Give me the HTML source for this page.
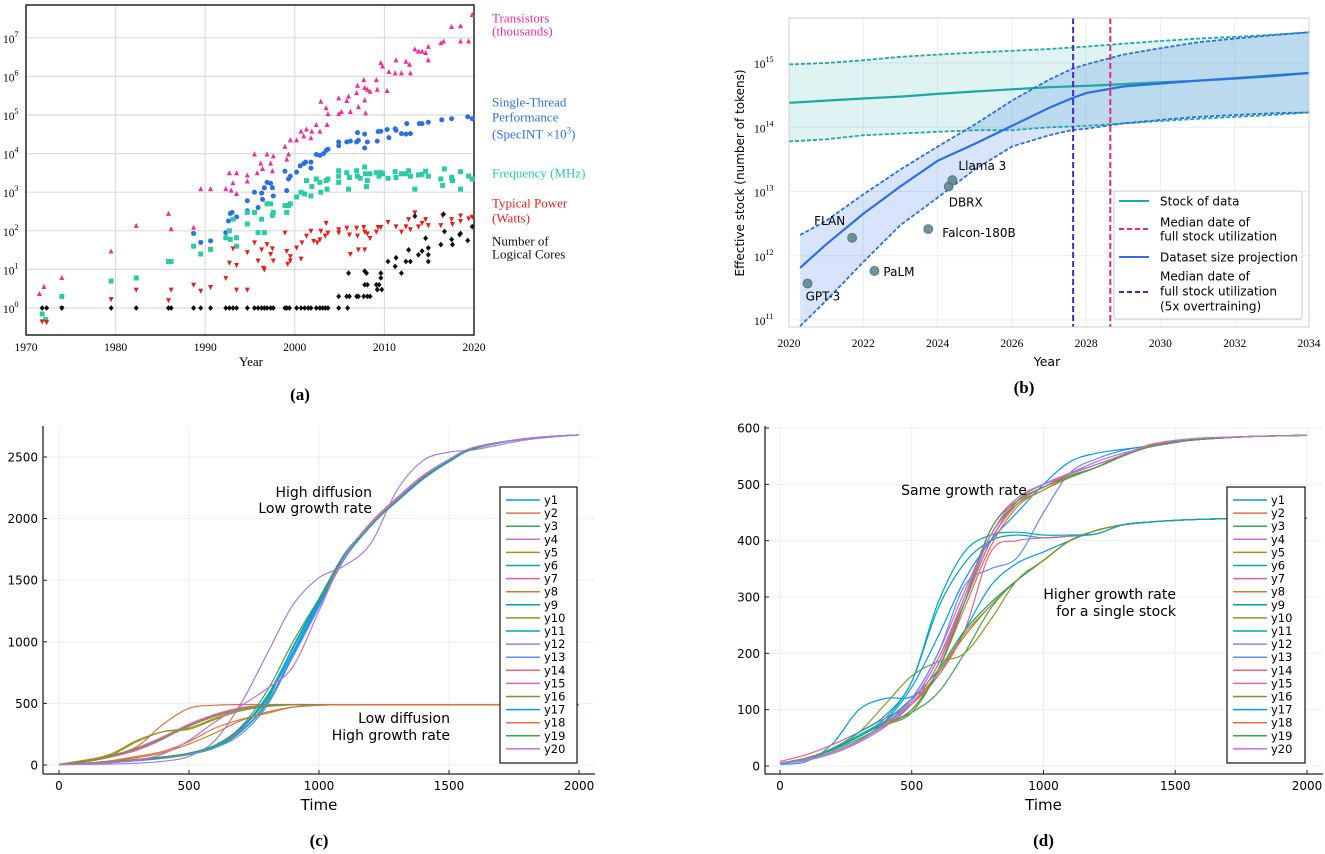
<!DOCTYPE html>
<html><head><meta charset="utf-8"><style>
html,body{margin:0;padding:0;background:#fff;overflow:hidden;}
svg{display:block;}
.serif{font-family:"Liberation Serif",serif;}
.sans{font-family:"DejaVu Sans","Liberation Sans",sans-serif;}
</style></head><body>
<svg id="fig" width="1325" height="854" viewBox="0 0 1325 854" xmlns="http://www.w3.org/2000/svg">
<g id="pa"></g>
<g id="pb"></g>
<g id="pc"></g>
<g id="pd"></g>
</svg>
<script>
// ---------- Panel (a) data ----------
const transYears=[1971.5,1972,1974,1979.5,1982.3,1985.9,1986.2,1988.7,1989.5,1990.6,1992.3,1992.7,1992.9,1993.1,1993.5,1993.5,1994.7,1994.7,1995.5,1995.8,1996.2,1996.4,1996.9,1997.3,1997.5,1997.6,1998.9,1999.1,1999.3,1999.5,2000.2,2000.7,2001,2001.3,2001.8,2001.9,2002.4,2002.8,2002.9,2003.5,2003.6,2003.7,2004.9,2004.9,2005.2,2005.8,2006,2006.2,2006.9,2007,2007.1,2007.7,2007.8,2007.8,2007.9,2008.1,2008.4,2009.1,2009.2,2009.6,2009.8,2010.3,2010.5,2011.2,2011.3,2011.9,2012.4,2012.8,2012.9,2013.4,2013.8,2014.2,2014.6,2014.9,2014.9,2016.3,2016.6,2017.5,2018.5,2018.5,2019.4,2019.8];
const transVals=[2.3,3.5,6,29,134,275,110,120,1200,1200,1200,3100,1100,1700,3100,900,2700,1900,9500,3100,5500,4000,9500,5500,3500,8500,15000,7000,9500,22000,22000,37000,28000,42000,25000,37000,55000,37000,220000,150000,55000,105000,270000,105000,120000,230000,300000,120000,370000,570000,160000,800000,500000,240000,110000,450000,400000,800000,450000,2200000,1800000,420000,1300000,1200000,2600000,1200000,2400000,2000000,1200000,5000000,4400000,4400000,4000000,5800000,2600000,7200000,8000000,19000000,20000000,8000000,8000000,39000000];
const perfYears=[1988.7,1989.5,1990.6,1992.3,1992.6,1992.8,1993,1993.5,1994.7,1994.7,1995.5,1995.9,1996.3,1996.4,1996.6,1996.9,1997.3,1997.5,1997.6,1998.9,1999.1,1999.3,1999.5,2000.2,2000.6,2001,2001.2,2001.8,2001.8,2002.4,2002.8,2003.2,2003.5,2003.7,2004.9,2004.9,2005.8,2006.2,2006.9,2007,2007.1,2007.8,2007.8,2008.1,2009.2,2009.3,2009.6,2010.3,2010.5,2011.2,2011.3,2011.9,2012.4,2012.5,2012.9,2013.9,2014.2,2014.9,2016.4,2017.5,2019.3,2019.8];
const perfVals=[85,50,55,90,180,280,300,230,600,330,1000,400,950,650,1300,1800,1700,1300,800,3500,1100,2200,2600,3300,4800,5500,6000,4200,6000,9500,9000,10000,12000,13000,20000,16000,20000,21000,20000,35000,22000,32000,14000,20000,21000,37000,38000,42000,26000,44000,40000,33000,32000,60000,33000,60000,60000,65000,75000,80000,90000,80000];
const freqYears=[1971.8,1972.2,1974,1979.5,1982.3,1985.9,1986.2,1988.7,1989.5,1990.6,1992.3,1992.7,1992.8,1993.1,1993.5,1993.5,1994.7,1994.7,1995.5,1995.9,1996.3,1996.6,1996.9,1997.3,1997.5,1997.6,1998.9,1999.1,1999.3,1999.5,2000.2,2000.7,2001.1,2001.3,2001.8,2001.9,2002.4,2002.8,2002.9,2003.5,2003.6,2003.7,2004.9,2004.9,2004.9,2005.8,2006,2006.1,2006.9,2007,2007.3,2007.8,2007.9,2008,2008.1,2008.4,2009.1,2009.4,2009.6,2009.8,2010.4,2011.2,2011.3,2011.9,2012.4,2012.7,2012.9,2013.4,2013.8,2014.2,2014.6,2014.9,2016.3,2016.5,2016.7,2017.5,2017.6,2018.5,2018.5,2019.4,2019.8];
const freqVals=[0.7,0.5,2,5,6,16,16,40,25,33,66,100,60,200,66,40,300,150,300,90,200,90,500,500,250,300,450,300,450,500,750,1000,900,2000,800,1400,2200,1800,1000,2000,1200,2200,3600,2600,1800,3200,1200,2400,3600,2600,2300,4500,3000,1400,2000,3000,3200,2600,3200,3000,2300,3400,2400,3000,3000,3600,2600,1200,2800,2900,3500,2600,2200,1500,4000,2400,2000,3400,1200,2600,2200];
const powYears=[1971.8,1972.3,1974,1979.5,1982.3,1985.9,1986.2,1988.7,1989.5,1990.6,1992.3,1992.7,1993.1,1993.5,1993.5,1994.7,1994.7,1995.5,1995.9,1996.3,1996.5,1996.6,1996.9,1997.3,1997.5,1997.6,1998.9,1999.1,1999.2,1999.5,1999.5,2000.2,2000.7,2000.8,2001.3,2001.8,2002.1,2002.5,2002.9,2003.5,2003.7,2002.8,2003.4,2004.9,2004.9,2005.8,2006.1,2006.2,2006.9,2007,2007.1,2007.7,2007.8,2007.8,2008.1,2008.4,2009.1,2009.3,2009.6,2010.4,2011.3,2011.9,2012.4,2012.7,2012.9,2013.4,2013.8,2014.2,2014.6,2014.9,2016.3,2016.5,2017.5,2017.6,2018.5,2018.5,2019.4,2019.8];
const powVals=[0.45,0.43,1,1.7,3,1.6,3,4,2.8,3.5,6,15,35,13,3,28,3,50,17,33,11,10,45,25,35,17,90,30,14,22,17,37,19,50,75,100,55,50,100,160,90,60,75,110,90,120,80,25,120,75,33,125,95,33,85,65,95,125,125,170,130,95,130,200,110,300,130,160,200,140,140,250,200,150,250,180,210,230];
const coreYears=[1971.8,1972.3,1974,1979.5,1982.3,1985.9,1986.2,1988.7,1989.5,1990.6,1992.3,1992.7,1993.1,1993.5,1994.7,1995.5,1995.9,1996.3,1996.6,1996.9,1997.3,1997.6,1998.9,1999.1,1999.4,2000.2,2000.7,2001.1,2001.5,2001.8,2002.4,2002.8,2003.1,2003.4,2003.7,2004.9,2005.9,2004.9,2005.8,2006.1,2006,2006.9,2007.1,2007.7,2007.8,2007.8,2008,2008.1,2008.1,2008.4,2009.1,2009.2,2009.4,2009.6,2009.6,2009.7,2010.4,2011.2,2011.3,2011.9,2012.4,2012.7,2012.9,2013.4,2013.8,2014.2,2014.6,2014.9,2014.9,2014.9,2016.3,2016.6,2016.7,2017.5,2017.6,2018.4,2018.5,2019.3,2019.8];
const coreVals=[1,1,1,1,1,1,1,1,1,1,1,1,1,1,1,1,1,1,1,1,1,1,1,1,1,1,1,1,1,1,1,1,1,1,1,1,1,2,2,2,8,2,2,2,4,9,8,4,2,2,4,3,4,8,6,3,16,12,20,8,16,32,16,240,24,30,64,36,24,16,44,270,96,60,44,80,85,56,128];
const aYearTicks=[1970,1980,1990,2000,2010,2020];
const aExpTicks=[0,1,2,3,4,5,6,7];

// ---------- Panel (b) data ----------
const bStockYears=[2020,2021,2022,2023,2024,2025,2026,2027,2028,2029,2030,2031,2032,2033,2034];
const bStockMed=[2.4e14,2.6e14,2.8e14,3.0e14,3.3e14,3.6e14,3.9e14,4.2e14,4.4e14,4.7e14,5.0e14,5.3e14,5.7e14,6.2e14,7e14];
const bStockHi=[9.5e14,1.0e15,1.1e15,1.25e15,1.35e15,1.45e15,1.55e15,1.65e15,1.8e15,2.0e15,2.2e15,2.4e15,2.55e15,2.75e15,3e15];
const bStockLo=[6e13,6.5e13,7.5e13,8e13,8.5e13,9e13,9e13,1.0e14,1.05e14,1.15e14,1.25e14,1.35e14,1.45e14,1.55e14,1.7e14];
const bProjYears=[2020.3,2021,2022,2023,2024,2025,2026,2027,2027.6,2028,2029,2030,2031,2032,2033,2034];
const bProjMed=[6.5e11,1.5e12,4.5e12,1.2e13,3e13,5.5e13,1.05e14,2.0e14,2.8e14,3.4e14,4.3e14,4.8e14,5.3e14,5.8e14,6.4e14,7e14];
const bProjHi=[2.1e12,3.5e12,9e12,2.2e13,5e13,1.1e14,2.6e14,5.5e14,8e14,9.5e14,1.35e15,1.7e15,2.1e15,2.4e15,2.7e15,3e15];
const bProjLo=[8e10,2e11,8e11,3e12,8e12,2.2e13,5e13,7.5e13,9e13,9.5e13,1.15e14,1.3e14,1.45e14,1.55e14,1.65e14,1.7e14];
const bModels=["GPT-3","FLAN","PaLM","Falcon-180B","DBRX","Llama 3"];
const bModelYears=[2020.5,2021.7,2022.3,2023.75,2024.3,2024.4];
const bModelVals=[3.7e11,1.9e12,5.8e11,2.6e12,1.2e13,1.5e13];
const bMedianDate=2028.65;
const bMedianDate5x=2027.65;
const bYearTicks=[2020,2022,2024,2026,2028,2030,2032,2034];
const bExpTicks=[11,12,13,14,15];

// ---------- Panel (c) data ----------
const cT=[0,100,200,300,400,500,600,700,800,900,1000,1100,1200,1300,1400,1500,1600,1800,2000];
const cY1=[5,10,20,35,55,90,150,290,540,920,1320,1700,1960,2160,2340,2480,2580,2650,2680];
const cY2=[5,40,80,150,330,460,485,490,490,490,490,490,490,490,490,490,490,490,490];
const cY3=[5,10,20,35,55,85,140,270,520,960,1350,1720,1950,2150,2330,2470,2575,2650,2680];
const cY4=[5,30,75,140,230,330,410,465,485,490,490,490,490,490,490,490,490,490,490];
const cY5=[5,35,90,200,270,300,380,450,480,490,490,490,490,490,490,490,490,490,490];
const cY6=[5,12,25,45,65,95,160,300,560,950,1330,1690,1950,2140,2320,2470,2570,2650,2680];
const cY7=[5,10,20,35,55,90,150,280,500,880,1300,1700,1970,2170,2350,2480,2580,2650,2680];
const cY8=[4,15,30,60,100,170,260,360,430,470,485,490,490,490,490,490,490,490,490];
const cY9=[5,30,70,130,220,320,400,460,485,490,490,490,490,490,490,490,490,490,490];
const cY10=[5,30,80,190,270,290,370,440,475,488,490,490,490,490,490,490,490,490,490];
const cY11=[5,12,25,45,65,95,150,270,500,900,1300,1680,1940,2150,2330,2470,2570,2650,2680];
const cY12=[2,5,8,15,30,70,200,500,900,1300,1520,1620,1800,2230,2470,2540,2560,2640,2680];
const cY13=[5,12,25,45,65,90,140,250,480,880,1280,1680,1960,2160,2340,2480,2580,2650,2680];
const cY14=[5,30,70,130,220,320,400,460,485,490,490,490,490,490,490,490,490,490,490];
const cY15=[5,25,65,120,210,330,410,465,485,490,490,490,490,490,490,490,490,490,490];
const cY16=[5,28,70,135,215,315,395,455,483,490,490,490,490,490,490,490,490,490,490];
const cY17=[4,10,20,40,60,95,160,300,540,950,1350,1710,1950,2150,2330,2470,2570,2650,2680];
const cY18=[3,15,35,70,110,190,300,370,420,470,485,490,490,490,490,490,490,490,490];
const cY19=[5,12,25,45,65,95,160,310,600,1000,1350,1700,1950,2140,2320,2460,2570,2650,2680];
const cY20=[3,10,20,40,90,200,350,480,620,800,1250,1700,1960,2160,2340,2480,2580,2650,2680];
const cYTicks=[0,500,1000,1500,2000,2500];
const cXTicks=[0,500,1000,1500,2000];

// ---------- Panel (d) data ----------
const dT=[0,100,200,300,400,500,600,700,800,900,1000,1100,1200,1300,1400,1500,1600,1800,2000];
const dY1=[3,8,40,100,120,123,160,240,320,360,380,400,418,428,433,436,438,440,440];
const dY2=[5,12,25,45,75,115,190,290,400,465,495,515,530,550,568,575,580,585,587];
const dY3=[5,14,28,48,72,95,130,200,280,330,365,400,418,428,433,436,438,440,440];
const dY4=[5,12,25,45,75,120,200,310,410,470,495,518,535,550,568,577,581,585,587];
const dY5=[5,14,30,52,78,110,165,230,285,330,365,400,418,428,433,436,438,440,440];
const dY6=[5,12,30,55,85,150,280,360,400,410,405,408,412,428,433,436,438,440,440];
const dY7=[8,20,38,60,85,110,160,240,380,400,405,408,412,428,433,436,438,440,440];
const dY8=[5,14,30,52,78,110,165,235,285,330,365,400,418,428,433,436,438,440,440];
const dY9=[5,14,30,52,80,120,170,240,290,330,365,400,418,428,433,436,438,440,440];
const dY10=[5,14,32,60,110,160,185,200,260,330,365,400,418,428,433,436,438,440,440];
const dY11=[5,12,30,60,90,150,290,380,410,415,410,410,412,428,433,436,438,440,440];
const dY12=[4,10,22,42,70,110,180,290,400,470,500,520,540,555,566,574,580,585,587];
const dY13=[5,12,25,45,75,120,200,320,350,370,450,520,545,560,568,575,580,585,587];
const dY14=[5,12,25,45,75,110,180,300,420,475,500,515,530,550,568,575,580,585,587];
const dY15=[5,12,25,45,75,110,180,290,400,470,500,518,535,552,570,578,582,585,587];
const dY16=[5,12,25,45,72,95,170,290,410,465,490,512,530,552,568,575,580,585,587];
const dY17=[5,12,25,45,80,140,230,330,400,450,500,540,555,562,568,575,580,585,587];
const dY18=[5,12,25,45,72,100,170,280,390,460,490,515,530,550,568,575,580,585,587];
const dY19=[5,12,25,45,75,100,170,290,420,470,495,515,530,550,566,575,580,585,587];
const dY20=[5,12,25,45,75,115,190,300,410,475,500,520,535,552,570,578,582,585,587];
const dYTicks=[0,100,200,300,400,500,600];
const dXTicks=[0,500,1000,1500,2000];

// ---------- helpers ----------
const NS="http://www.w3.org/2000/svg";
function mk(parent,tag,attrs){const e=document.createElementNS(NS,tag);for(const k in attrs)e.setAttribute(k,attrs[k]);parent.appendChild(e);return e;}
function txt(parent,x,y,s,attrs){const e=mk(parent,'text',Object.assign({x:x,y:y},attrs||{}));e.textContent=s;return e;}
function crPath(pts){
  if(pts.length<2)return '';
  let d='M'+pts[0][0].toFixed(1)+','+pts[0][1].toFixed(1);
  for(let i=0;i<pts.length-1;i++){
    const p0=pts[Math.max(0,i-1)],p1=pts[i],p2=pts[i+1],p3=pts[Math.min(pts.length-1,i+2)];
    const c1=[p1[0]+(p2[0]-p0[0])/6,p1[1]+(p2[1]-p0[1])/6];
    const c2=[p2[0]-(p3[0]-p1[0])/6,p2[1]-(p3[1]-p1[1])/6];
    d+='C'+c1[0].toFixed(1)+','+c1[1].toFixed(1)+' '+c2[0].toFixed(1)+','+c2[1].toFixed(1)+' '+p2[0].toFixed(1)+','+p2[1].toFixed(1);
  }
  return d;
}

// ---------- Panel (a) ----------
(function(){
  const g=document.getElementById('pa');
  const L=26,R=474,T=5,B=335;
  const x=v=>L+(v-1970)/50*(R-L);
  const y=v=>308-Math.log10(v)*38.6;
  aYearTicks.forEach(t=>{
    if(t>1970&&t<2020){const l=mk(g,'line',{x1:x(t),x2:x(t),y1:T,y2:B,stroke:'#dcdcdc','stroke-width':1.2});
    }
    const tl=txt(g,x(t),351,String(t),{'text-anchor':'middle','font-size':11.5,class:'serif'});
    
  });
  aExpTicks.forEach(e=>{
    const yy=y(Math.pow(10,e));
    const l=mk(g,'line',{x1:L,x2:R,y1:yy,y2:yy,stroke:'#dcdcdc','stroke-width':1.2});
    
    const tl=mk(g,'text',{x:3,y:yy+5,'font-size':11.5,class:'serif'});
    
    tl.innerHTML='10<tspan dy="-6" font-size="8">'+e+'</tspan>';
  });
  const fr=mk(g,'rect',{x:L,y:T,width:R-L,height:B-T,fill:'none',stroke:'#222','stroke-width':1.5});
  
  const s=2.5;
  function marker(kind,cx,cy,col){
    let e;
    if(kind==='tri')e=mk(g,'polygon',{points:`${cx},${cy-s-0.6} ${cx-s},${cy+s*0.8} ${cx+s},${cy+s*0.8}`,fill:col});
    else if(kind==='tridown')e=mk(g,'polygon',{points:`${cx},${cy+s+0.6} ${cx-s},${cy-s*0.8} ${cx+s},${cy-s*0.8}`,fill:col});
    else if(kind==='circle')e=mk(g,'circle',{cx:cx,cy:cy,r:s,fill:col});
    else if(kind==='square')e=mk(g,'rect',{x:cx-s,y:cy-s,width:2*s,height:2*s,fill:col});
    else e=mk(g,'polygon',{points:`${cx},${cy-s-0.4} ${cx+s},${cy} ${cx},${cy+s+0.4} ${cx-s},${cy}`,fill:col});
    return e;
  }
  const series=[[transYears,transVals,'tri','#ED2F9E','transistor-point'],[perfYears,perfVals,'circle','#2C6FE3','performance-point'],[freqYears,freqVals,'square','#2BCBA8','frequency-point'],[powYears,powVals,'tridown','#E5201C','power-point'],[coreYears,coreVals,'diamond','#111','cores-point']];
  series.forEach(sr=>{sr[0].forEach((yr,i)=>{const m=marker(sr[2],x(yr),y(sr[1][i]),sr[3]);
    });});
  const labs=[['Transistors',18,'#ED2F9E'],['(thousands)',31,'#ED2F9E'],['Single-Thread',102,'#2C6FE3'],['Performance',117,'#2C6FE3'],['Frequency (MHz)',173,'#2BCBA8'],['Typical Power',203,'#E5201C'],['(Watts)',218,'#E5201C'],['Number of',241,'#111'],['Logical Cores',254,'#111']];
  labs.forEach(l=>{const t=txt(g,492,l[1]+4.5,l[0],{'font-size':13,fill:l[2],class:'serif'});
    });
  const sp=mk(g,'text',{x:492,y:138.5,'font-size':13,fill:'#2C6FE3',class:'serif'});
  
  sp.innerHTML='(SpecINT ×10<tspan dy="-5" font-size="9">3</tspan><tspan dy="5">)</tspan>';
  const xt=txt(g,251,366,'Year',{'text-anchor':'middle','font-size':13,class:'serif'});
  
  const cap=txt(g,300,400,'(a)',{'text-anchor':'middle','font-size':17,'font-weight':'bold',class:'serif'});
  
})();

// ---------- Panel (b) ----------
(function(){
  const g=document.getElementById('pb');
  const L=789,R=1309,T=18,B=327;
  const x=v=>L+(v-2020)/14*(R-L);
  const y=v=>63+(15-Math.log10(v))*64.25;
  const defs=mk(g,'defs',{});const cp=mk(defs,'clipPath',{id:'bclip'});mk(cp,'rect',{x:L,y:T,width:R-L,height:B-T});
  bYearTicks.forEach(t=>{
    const l=mk(g,'line',{x1:x(t),x2:x(t),y1:T,y2:B,stroke:'#e8eef0','stroke-width':1});
    
    const tl=txt(g,x(t),347,String(t),{'text-anchor':'middle','font-size':11.5,class:'serif'});
    
  });
  bExpTicks.forEach(e=>{
    const yy=y(Math.pow(10,e));
    const l=mk(g,'line',{x1:L,x2:R,y1:yy,y2:yy,stroke:'#e8eef0','stroke-width':1});
    
    const tl=mk(g,'text',{x:754,y:yy+5,'font-size':11.5,class:'serif'});
    
    tl.innerHTML='10<tspan dy="-6" font-size="8">'+e+'</tspan>';
  });
  const cg=mk(g,'g',{'clip-path':'url(#bclip)'});
  function band(xs,hi,lo,fill,name){
    const top=xs.map((v,i)=>[x(v),y(hi[i])]);const bot=xs.map((v,i)=>[x(v),y(lo[i])]).reverse();
    const p=mk(cg,'path',{d:'M'+top.map(p=>p.join(',')).join('L')+'L'+bot.map(p=>p.join(',')).join('L')+'Z',fill:fill});
    
  }
  band(bStockYears,bStockHi,bStockLo,'rgba(60,185,175,0.17)','stock-band');
  band(bProjYears,bProjHi,bProjLo,'rgba(45,110,225,0.19)','projection-band');
  function line(xs,ys,col,dash,w,name){
    const p=mk(cg,'path',{d:'M'+xs.map((v,i)=>x(v).toFixed(1)+','+y(ys[i]).toFixed(1)).join('L'),fill:'none',stroke:col,'stroke-width':w});
    if(dash)p.setAttribute('stroke-dasharray',dash);
    
  }
  line(bStockYears,bStockHi,'#1DA8A4','4,2',1.8,'stock-upper-line');
  line(bStockYears,bStockLo,'#1DA8A4','4,2',1.8,'stock-lower-line');
  line(bStockYears,bStockMed,'#1DA8A4',null,2.2,'stock-median-line');
  line(bProjYears,bProjHi,'#2E6FE0','4,2',1.8,'projection-upper-line');
  line(bProjYears,bProjLo,'#2E6FE0','4,2',1.8,'projection-lower-line');
  line(bProjYears,bProjMed,'#2E6FE0',null,2.2,'projection-median-line');
  const v1=mk(g,'line',{x1:x(bMedianDate5x),x2:x(bMedianDate5x),y1:T,y2:B,stroke:'#4B23C8','stroke-width':2,'stroke-dasharray':'6,3'});
  
  const v2=mk(g,'line',{x1:x(bMedianDate),x2:x(bMedianDate),y1:T,y2:B,stroke:'#E5267A','stroke-width':2,'stroke-dasharray':'6,3'});
  
  const off=[[-2,17],[-38,-13],[9,5],[14,8],[0,20],[6,-10]];
  bModels.forEach((m,i)=>{
    const cx=x(bModelYears[i]),cy=y(bModelVals[i]);
    const c=mk(g,'circle',{cx:cx,cy:cy,r:4.5,fill:'#5f8a92',stroke:'#41636a','stroke-width':0.8,opacity:0.9});
    
    const t=txt(g,cx+off[i][0],cy+off[i][1],m,{'font-size':12,class:'sans'});
    
  });
  const fr=mk(g,'rect',{x:L,y:T,width:R-L,height:B-T,fill:'none',stroke:'#c8d0d2','stroke-width':1});
  
  const lg=mk(g,'g',{});
  mk(lg,'rect',{x:1114,y:191,width:188,height:128,fill:'rgba(255,255,255,0.9)',stroke:'#ccc','stroke-width':1,rx:2});
  const le=[[201,'#1DA8A4',null,['Stock of data'],[201]],[229,'#E5267A','5,3',['Median date of','full stock utilization'],[222,236]],[257,'#2E6FE0',null,['Dataset size projection'],[257]],[292,'#4B23C8','5,3',['Median date of','full stock utilization','(5x overtraining)'],[276,291,306]]];
  le.forEach(e=>{
    const ln=mk(lg,'line',{x1:1119,x2:1149,y1:e[0],y2:e[0],stroke:e[1],'stroke-width':2});
    if(e[2])ln.setAttribute('stroke-dasharray',e[2]);
    
    e[3].forEach((s,k)=>{const t=txt(lg,1160,e[4][k]+4.5,s,{'font-size':12,class:'sans'});
      });
  });
  const yt=txt(g,0,0,'Effective stock (number of tokens)',{'font-size':12,class:'sans','text-anchor':'middle',transform:'translate(744,173) rotate(-90)'});
  
  const xt=txt(g,1047,366,'Year',{'text-anchor':'middle','font-size':12.5,class:'sans'});
  
  const cap=txt(g,1024,393,'(b)',{'text-anchor':'middle','font-size':17,'font-weight':'bold',class:'serif'});
  
})();

// ---------- Panels (c) & (d) ----------
const colors=['#009AFA','#E36F47','#3EA44E','#C371D2','#AC8E18','#00AAAE','#ED5E93','#C68225','#00A98D','#8E971E','#00A7C5','#9B7FE9','#618DF6','#F05F73','#DD64B5','#6A9A36','#009AFA','#E36F47','#3EA44E','#C371D2'];
function lineChart(id,T_,series,yMax,yTicks,xTicks,geom,notes,capLabel){
  const g=document.getElementById(id);
  const x=v=>geom.x0+v/2000*(geom.x1-geom.x0);
  const y=v=>geom.y0-v/yMax*(geom.y0-geom.yTop);
  xTicks.forEach(t=>{
    const l=mk(g,'line',{x1:x(t),x2:x(t),y1:geom.T,y2:geom.B,stroke:'#eeeeee','stroke-width':1});
    
    mk(g,'line',{x1:x(t),x2:x(t),y1:geom.B,y2:geom.B-4,stroke:'#222','stroke-width':1});
    const tl=txt(g,x(t),geom.B+16,String(t),{'text-anchor':'middle','font-size':12,class:'sans'});
    
  });
  yTicks.forEach(t=>{
    const l=mk(g,'line',{x1:geom.L,x2:geom.R,y1:y(t),y2:y(t),stroke:'#eeeeee','stroke-width':1});
    
    mk(g,'line',{x1:geom.L,x2:geom.L+4,y1:y(t),y2:y(t),stroke:'#222','stroke-width':1});
    const tl=txt(g,geom.L-5,y(t)+4.5,String(t),{'text-anchor':'end','font-size':12,class:'sans'});
    
  });
  const ax1=mk(g,'line',{x1:geom.L,x2:geom.L,y1:geom.T,y2:geom.B,stroke:'#222','stroke-width':1.3});
  
  const ax2=mk(g,'line',{x1:geom.L,x2:geom.R,y1:geom.B,y2:geom.B,stroke:'#222','stroke-width':1.3});
  
  series.forEach((s,i)=>{
    const p=mk(g,'path',{d:crPath(T_.map((t,k)=>[x(t),y(s[k])])),fill:'none',stroke:colors[i],'stroke-width':1.2});
    
  });
  notes.forEach(n=>{const t=txt(g,n[0],n[1],n[2],{'text-anchor':n[3],'font-size':14,class:'sans'});
    });
  const lg=mk(g,'g',{});
  mk(lg,'rect',{x:geom.lx,y:487,width:geom.lw,height:276,fill:'#fff',stroke:'#111','stroke-width':1.2});
  series.forEach((s,i)=>{
    const yy=500+i*13.1;
    const sw=mk(lg,'line',{x1:geom.lx+6,x2:geom.lx+40,y1:yy,y2:yy,stroke:colors[i],'stroke-width':1.5});
    
    const t=txt(lg,geom.lx+44,yy+4,'y'+(i+1),{'font-size':11.5,class:'sans'});
    
  });
  const xt=txt(g,(geom.x0+geom.x1)/2,geom.B+36,'Time',{'text-anchor':'middle','font-size':15,class:'sans'});
  
  const cap=txt(g,(geom.x0+geom.x1)/2,846,capLabel,{'text-anchor':'middle','font-size':17,'font-weight':'bold',class:'serif'});
  
}
lineChart('pc',cT,[cY1,cY2,cY3,cY4,cY5,cY6,cY7,cY8,cY9,cY10,cY11,cY12,cY13,cY14,cY15,cY16,cY17,cY18,cY19,cY20],2500,cYTicks,cXTicks,
  {L:43,R:595,T:426,B:774,x0:59,x1:579,y0:765,yTop:457,lx:500,lw:77},
  [[372,497,'High diffusion','end'],[372,513,'Low growth rate','end'],[450,723,'Low diffusion','end'],[450,740,'High growth rate','end']],'(c)');
lineChart('pd',dT,[dY1,dY2,dY3,dY4,dY5,dY6,dY7,dY8,dY9,dY10,dY11,dY12,dY13,dY14,dY15,dY16,dY17,dY18,dY19,dY20],600,dYTicks,dXTicks,
  {L:765,R:1323,T:426,B:774,x0:780,x1:1307,y0:766,yTop:428,lx:1227,lw:78},
  [[964,495,'Same growth rate','middle'],[1176,599,'Higher growth rate','end'],[1176,616,'for a single stock','end']],'(d)');
</script>
</body></html>
